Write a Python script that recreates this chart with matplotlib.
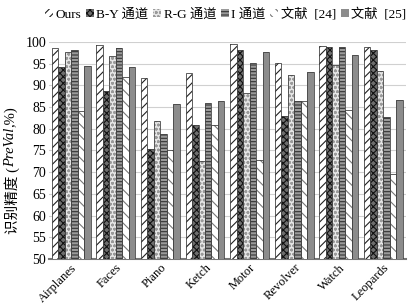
import numpy as np
import matplotlib
matplotlib.use("Agg")
import matplotlib.pyplot as plt

plt.rcParams['font.family'] = ['Liberation Serif', 'Noto Sans CJK SC']
plt.rcParams['hatch.linewidth'] = 0.8

categories = ["Airplanes", "Faces", "Piano", "Ketch", "Motor", "Revolver", "Watch", "Leopards"]
series_names = ["Ours", "B-Y 通道", "R-G 通道", "I 通道", "文献  [24]", "文献  [25]"]
ours = [98.6, 99.4, 91.6, 92.8, 99.6, 95.1, 99.1, 98.9]
by_ch = [94.3, 88.8, 75.3, 80.8, 98.1, 82.9, 98.9, 98.1]
rg_ch = [97.7, 96.8, 81.9, 72.6, 88.2, 92.4, 94.7, 93.3]
i_ch = [98.1, 98.5, 78.7, 86.0, 95.2, 86.5, 98.9, 82.7]
ref24 = [84.0, 91.9, 75.0, 80.8, 72.9, 86.5, 84.4, 69.5]
ref25 = [94.5, 94.2, 85.7, 86.5, 97.6, 93.0, 97.1, 86.7]
yticks = [50, 55, 60, 65, 70, 75, 80, 85, 90, 95, 100]

series = [ours, by_ch, rg_ch, i_ch, ref24, ref25]
faces = ["white", "#6e6e6e", "#e6e6e6", "#9a9a9a", "white", "#8c8c8c"]
hatches = ["////", "xxxxx", "oooo", "-----", "\\\\\\", ""]
hcols = ["#222222", "#111111", "#9a9a9a", "#333333", "#777777", "#8c8c8c"]

fig = plt.figure(figsize=(4.14, 3.04), dpi=100)
ax = fig.add_axes([0.118, 0.148, 0.862, 0.714])

x = np.arange(len(categories))
w = 0.145
for k, vals in enumerate(series):
    pos = x + (k - 2.5) * w
    ax.bar(pos, vals, w, color=faces[k], hatch=hatches[k],
           edgecolor=hcols[k], linewidth=0, label=series_names[k], zorder=3)
    # dark outline, like the shaded edges of the original
    ax.bar(pos, vals, w, color="none", edgecolor="#444444", linewidth=0.6, zorder=4)

ax.set_ylim(50, 100)
ax.set_xlim(-0.5, len(categories) - 0.5)
ax.set_yticks(yticks)
ax.set_yticklabels([str(t) for t in yticks], fontsize=10)
ax.set_xticks(x)
ax.set_xticklabels(categories, rotation=45, ha='right', rotation_mode='anchor', fontsize=9)
ax.tick_params(axis='y', length=0, pad=2)
ax.tick_params(axis='x', length=0, pad=2)
ax.yaxis.grid(True, color="#d0d0d0", linewidth=0.8, zorder=0)
ax.set_axisbelow(True)
for s in ["top", "right", "left"]:
    ax.spines[s].set_visible(False)
ax.spines["bottom"].set_color("#777777")
ax.spines["bottom"].set_linewidth(1.5)

# y label in pieces so that PreVal can be italic
fig.canvas.draw()
r = fig.canvas.get_renderer()
parts = [("识别精度 (", "normal"), ("PreVal", "italic"), (",%)", "normal")]
heights = []
texts = []
for s, st in parts:
    t = fig.text(0, 0, s, rotation=90, fontsize=10.5, style=st, ha='left', va='bottom')
    texts.append(t)
    heights.append(t.get_window_extent(r).height / fig.bbox.height)
total = sum(heights)
y0 = 0.44 - total / 2
for t, h in zip(texts, heights):
    t.set_position((0.01, y0))
    y0 += h

handles, labels = ax.get_legend_handles_labels()
fig.legend(handles[:6], labels[:6], loc='upper center', bbox_to_anchor=(0.545, 1.0), ncol=6,
           frameon=False, fontsize=9.5, handlelength=0.6, handleheight=0.6,
           handletextpad=0.2, columnspacing=0.35, borderaxespad=0.2)

fig.savefig("out.png", dpi=100)
